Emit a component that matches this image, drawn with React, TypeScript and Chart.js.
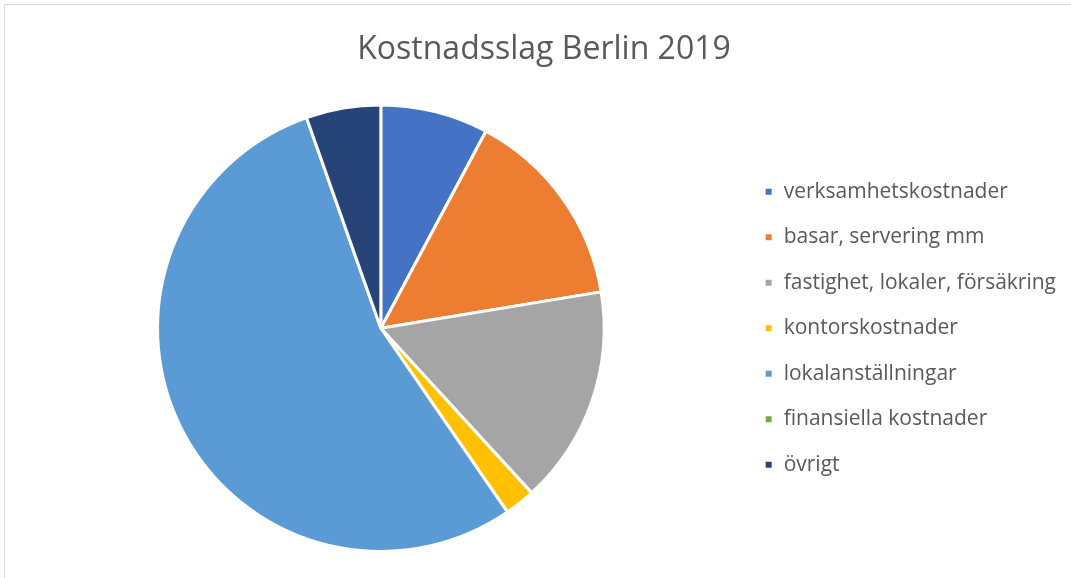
import React, { useEffect, useRef } from "react";
import { Chart, registerables } from "chart.js";

Chart.register(...registerables);

const categories = [
  "verksamhetskostnader",
  "basar, servering mm",
  "fastighet, lokaler, försäkring",
  "kontorskostnader",
  "lokalanställningar",
  "finansiella kostnader",
  "övrigt",
];
const values = [7.8, 14.6, 15.8, 2.2, 54.2, 0, 5.4];
const colors = ["#4472C4", "#ED7D31", "#A5A5A5", "#FFC000", "#5B9BD5", "#70AD47", "#264478"];
const title = "Kostnadsslag Berlin 2019";

const FONT = "'Open Sans', sans-serif";

export default function App() {
  const ref = useRef<HTMLCanvasElement | null>(null);
  useEffect(() => {
    document.body.style.margin = "0";
    const chart = new Chart(ref.current!, {
      type: "pie",
      data: {
        labels: categories,
        datasets: [
          {
            data: values,
            backgroundColor: colors,
            borderColor: "#ffffff",
            borderWidth: 3,
          },
        ],
      },
      options: {
        animation: false,
        responsive: false,
        layout: { padding: { left: 22, right: 5, top: 0, bottom: 25 } },
        plugins: {
          title: {
            display: true,
            text: title,
            color: "#595959",
            font: { family: FONT, size: 32, weight: "normal" },
            padding: { top: 31, bottom: 34 },
          },
          legend: {
            position: "right",
            fullSize: false,
            labels: {
              color: "#595959",
              font: { family: FONT, size: 21 },
              boxWidth: 9,
              boxHeight: 9,
              padding: 24.5,
            },
          },
          tooltip: { enabled: false },
        },
      },
    });
    return () => chart.destroy();
  }, []);
  return (
    <div style={{ position: "relative", width: 1071, height: 578, background: "#fff" }}>
      <canvas ref={ref} width={1071} height={578} style={{ display: "block" }} />
      <div
        style={{
          position: "absolute",
          left: 4,
          top: 4,
          right: 0,
          bottom: 0,
          borderTop: "1px solid #d9d9d9",
          borderLeft: "1px solid #d9d9d9",
          pointerEvents: "none",
        }}
      />
    </div>
  );
}
